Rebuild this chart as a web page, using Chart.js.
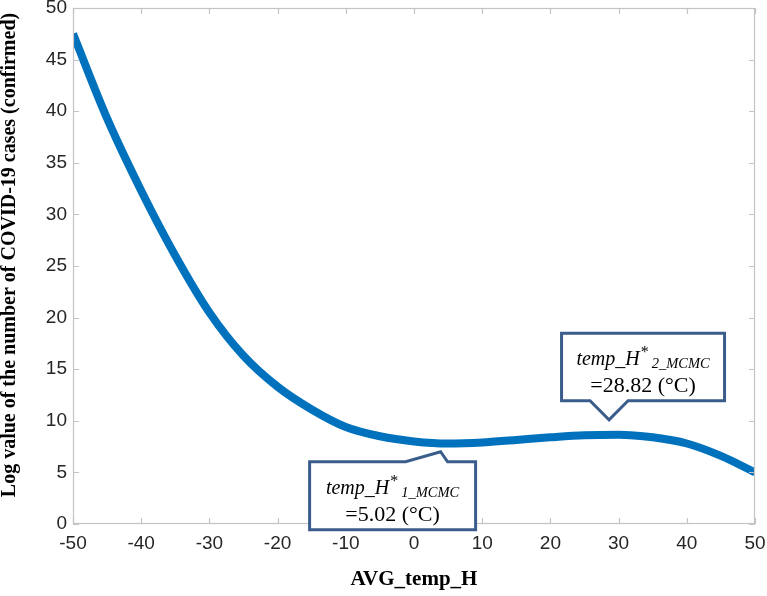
<!DOCTYPE html>
<html>
<head>
<meta charset="utf-8">
<script src="https://cdn.jsdelivr.net/npm/chart.js@4.4.1/dist/chart.umd.min.js"></script>
<style>
    html, body { margin: 0; padding: 0; background: #fff; }
    #wrap { width: 767px; height: 596px; position: relative; }
</style>
</head>
<body>
<div id="wrap"><canvas id="curve-chart" width="767" height="596"></canvas></div>
<script>
// values
const temps = [-50, -45, -40, -35, -30, -25, -20, -15, -10, -5, 0, 5, 10, 15, 20, 25, 30, 35, 40, 45, 50];
const logCases = [47.5, 39.3, 32.3, 26.0, 20.5, 16.3, 13.3, 11.1, 9.4, 8.5, 8.0, 7.8, 7.9, 8.15, 8.4, 8.6, 8.65, 8.4, 7.8, 6.6, 5.0];
const xTicks = [-50, -40, -30, -20, -10, 0, 10, 20, 30, 40, 50];
const yTicks = [0, 5, 10, 15, 20, 25, 30, 35, 40, 45, 50];
const xTitle = 'AVG_temp_H';
const yTitle = 'Log value of the number of COVID-19 cases (confirmed)';

// callouts: anchor in data units, sub index and value text
const callouts = [
    { x: 3.9, y: 7.0, sub: '1_MCMC', value: '=5.02 (°C)', below: true },
    { x: 28.6, y: 10.1, sub: '2_MCMC', value: '=28.82 (°C)', below: false }
];

const axisGray = '#c4c4c4';
const textGray = '#262626';
const boxBlue = '#3b5d8b';

const framePlugin = {
    id: 'frame',
    afterDatasetsDraw(chart) {
        const ctx = chart.ctx;
        const a = chart.chartArea;
        const xs = chart.scales.x, ys = chart.scales.y;
        ctx.save();
        ctx.strokeStyle = axisGray;
        ctx.lineWidth = 1.2;
        ctx.strokeRect(a.left + 0.5, a.top + 0.5, a.right - a.left - 1, a.bottom - a.top - 1);
        ctx.beginPath();
        xTicks.forEach(v => {
            const px = Math.round(xs.getPixelForValue(v)) + 0.5;
            ctx.moveTo(px, a.bottom); ctx.lineTo(px, a.bottom - 6);
            ctx.moveTo(px, a.top); ctx.lineTo(px, a.top + 6);
        });
        yTicks.forEach(v => {
            const py = Math.round(ys.getPixelForValue(v)) + 0.5;
            ctx.moveTo(a.left, py); ctx.lineTo(a.left + 6, py);
            ctx.moveTo(a.right, py); ctx.lineTo(a.right - 6, py);
        });
        ctx.stroke();

        // axis titles
        ctx.fillStyle = '#000';
        ctx.font = 'bold 21px "Liberation Serif"';
        ctx.textAlign = 'center';
        ctx.textBaseline = 'middle';
        ctx.fillText(xTitle, (a.left + a.right) / 2, 580);
        ctx.save();
        ctx.translate(10, 255);
        ctx.rotate(-Math.PI / 2);
        ctx.font = 'bold 20px "Liberation Serif"';
        ctx.fillText(yTitle, 0, 0);
        ctx.restore();
        ctx.restore();
    }
};

const calloutPlugin = {
    id: 'callouts',
    afterDraw(chart) {
        const ctx = chart.ctx;
        const xs = chart.scales.x, ys = chart.scales.y;
        callouts.forEach(c => {
            const tx = xs.getPixelForValue(c.x);
            const ty = ys.getPixelForValue(c.y);
            let left, right, top, bottom;
            ctx.save();
            ctx.lineWidth = 3;
            ctx.strokeStyle = boxBlue;
            ctx.fillStyle = '#fff';
            ctx.lineJoin = 'miter';
            ctx.beginPath();
            if (c.below) {
                left = tx - 131; right = tx + 35; top = ty + 10; bottom = ty + 78;
                ctx.moveTo(left, top);
                ctx.lineTo(tx - 35, top);
                ctx.lineTo(tx, ty);
                ctx.lineTo(tx + 7, top);
                ctx.lineTo(right, top);
                ctx.lineTo(right, bottom);
                ctx.lineTo(left, bottom);
            } else {
                left = tx - 47.5; right = tx + 115.5; top = ty - 86.5; bottom = ty - 19;
                ctx.moveTo(left, top);
                ctx.lineTo(right, top);
                ctx.lineTo(right, bottom);
                ctx.lineTo(tx + 19, bottom);
                ctx.lineTo(tx, ty);
                ctx.lineTo(tx - 19, bottom);
                ctx.lineTo(left, bottom);
            }
            ctx.closePath();
            ctx.fill();
            ctx.stroke();

            // first line: temp_H^*_{n_MCMC}
            const cx = (left + right) / 2;
            const base1 = top + 32, base2 = top + 59;
            const fMain = 'italic 20px "Liberation Serif"';
            const fSup = '16px "Liberation Serif"';
            const fSub = 'italic 14.5px "Liberation Serif"';
            ctx.fillStyle = '#000';
            ctx.textBaseline = 'alphabetic';
            ctx.textAlign = 'left';
            ctx.font = fMain; const w1 = ctx.measureText('temp_H').width;
            ctx.font = fSup; const w2 = ctx.measureText('*').width;
            ctx.font = fSub; const w3 = ctx.measureText(c.sub).width;
            const x0 = cx - (w1 + w2 + w3 + 4) / 2;
            ctx.font = fMain; ctx.fillText('temp_H', x0, base1);
            ctx.font = fSup; ctx.fillText('*', x0 + w1 + 1, base1 - 8);
            ctx.font = fSub; ctx.fillText(c.sub, x0 + w1 + w2 + 4, base1 + 3);
            ctx.textAlign = 'center';
            ctx.font = '22px "Liberation Serif"';
            ctx.fillText(c.value, cx, base2);
            ctx.restore();
        });
    }
};

const points = temps.map((t, i) => ({ x: t, y: logCases[i] }));

new Chart(document.getElementById('curve-chart'), {
    type: 'line',
    data: {
        datasets: [{
            data: points,
            borderColor: '#0072bd',
            borderWidth: 8,
            borderCapStyle: 'butt',
            pointRadius: 0,
            fill: false,
            cubicInterpolationMode: 'monotone'
        }]
    },
    options: {
        responsive: false,
        animation: false,
        layout: { padding: { left: 0, right: 12, top: 8, bottom: 0 } },
        plugins: { legend: { display: false }, tooltip: { enabled: false } },
        scales: {
            x: {
                type: 'linear', min: -50, max: 50,
                afterFit: s => { s.height = 72; s.paddingLeft = 0; s.paddingRight = 0; },
                afterBuildTicks: s => { s.ticks = xTicks.map(v => ({ value: v })); },
                grid: { display: false, drawTicks: false },
                border: { display: false },
                ticks: { color: textGray, padding: 8, maxRotation: 0, font: { family: '"Liberation Sans"', size: 19 } }
            },
            y: {
                min: 0, max: 50,
                afterFit: s => { s.width = 73; s.paddingTop = 0; s.paddingBottom = 0; },
                afterBuildTicks: s => { s.ticks = yTicks.map(v => ({ value: v })); },
                grid: { display: false, drawTicks: false },
                border: { display: false },
                ticks: { color: textGray, padding: 6, font: { family: '"Liberation Sans"', size: 19 } }
            }
        }
    },
    plugins: [framePlugin, calloutPlugin]
});
</script>
</body>
</html>
